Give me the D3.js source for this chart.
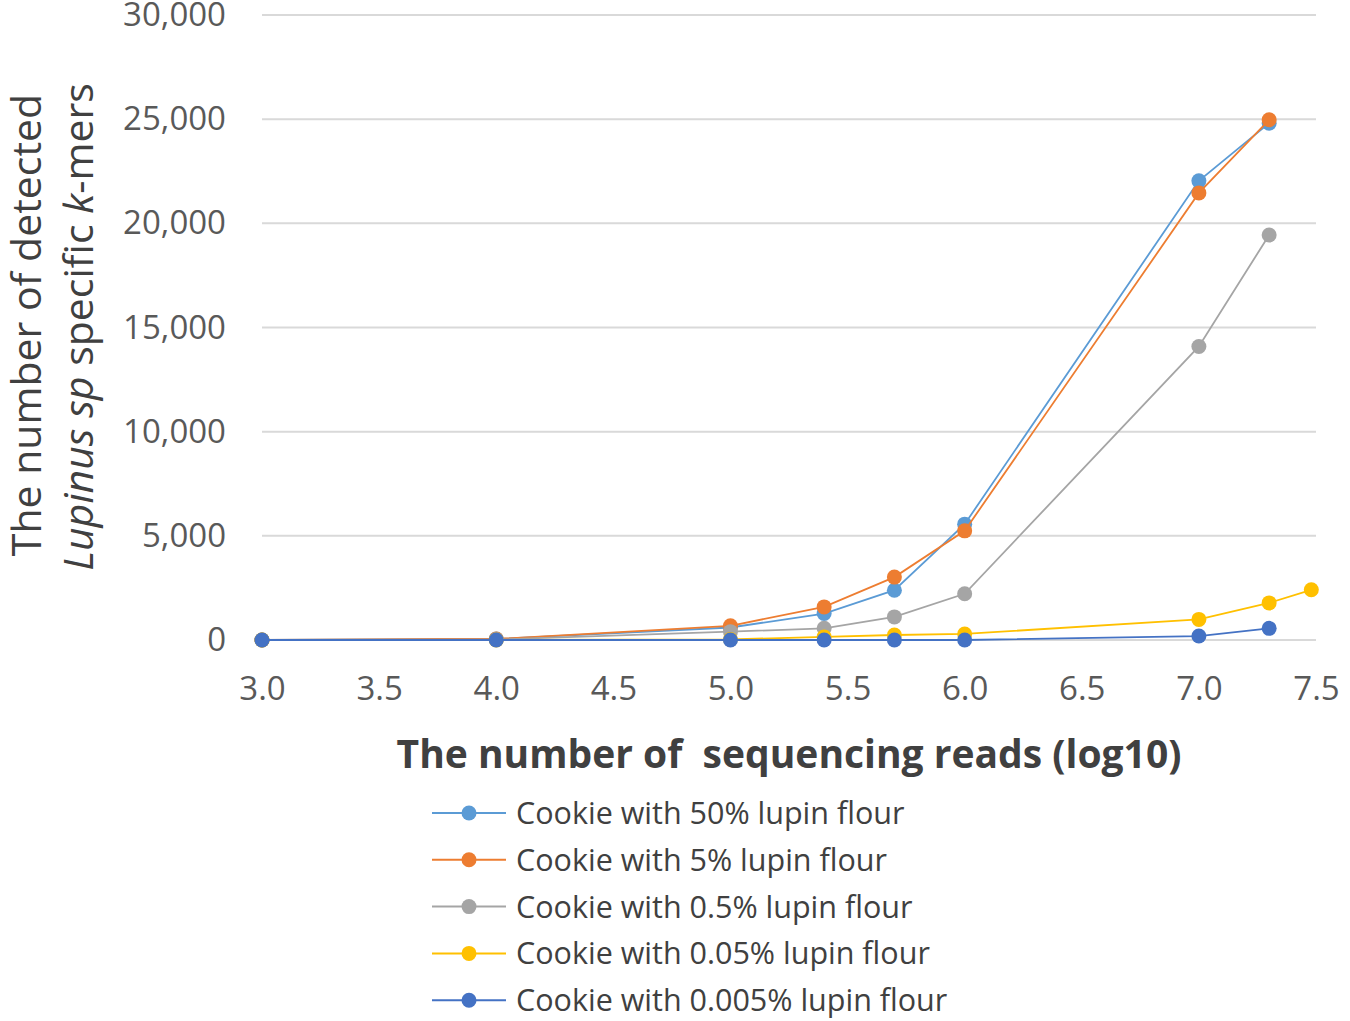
<!DOCTYPE html>
<html>
<head>
<meta charset="utf-8">
<script src="https://cdn.jsdelivr.net/npm/d3@7"></script>
<style>
  body { margin: 0; background: #fff; }
  text { font-family: "Open Sans", "Noto Sans", sans-serif; }
</style>
</head>
<body>
<div id="chart"></div>
<script>
var xValues = [3.0, 4.0, 5.0, 5.4, 5.7, 6.0, 7.0, 7.3, 7.48];
var seriesNames = [
    "Cookie with 50% lupin flour",
    "Cookie with 5% lupin flour",
    "Cookie with 0.5% lupin flour",
    "Cookie with 0.05% lupin flour",
    "Cookie with 0.005% lupin flour"
];
var seriesColors = ["#5B9BD5", "#ED7D31", "#A5A5A5", "#FFC000", "#4472C4"];
var s50 = [0, 50, 600, 1270, 2390, 5560, 22040, 24810];
var s5 = [0, 50, 680, 1590, 3020, 5240, 21460, 24970];
var s05 = [0, 20, 400, 560, 1110, 2220, 14090, 19440];
var s005 = [0, 0, 30, 150, 240, 290, 990, 1780, 2410];
var s0005 = [0, 0, 0, 0, 0, 0, 190, 560];
var allSeries = [s50, s5, s05, s005, s0005];
var xTicks = [3.0, 3.5, 4.0, 4.5, 5.0, 5.5, 6.0, 6.5, 7.0, 7.5];
var yTicks = [0, 5000, 10000, 15000, 20000, 25000, 30000];

var W = 1350, H = 1021;
var svg = d3.select("#chart").append("svg")
    .attr("width", W)
    .attr("height", H);

var x = d3.scaleLinear().domain([3.0, 7.5]).range([262, 1316]);
var y = d3.scaleLinear().domain([0, 30000]).range([640, 15]);

// gridlines
svg.append("g").selectAll("line")
    .data(yTicks)
    .enter().append("line")
    .attr("x1", x(3.0))
    .attr("x2", x(7.5))
    .attr("y1", function (d) { return y(d); })
    .attr("y2", function (d) { return y(d); })
    .attr("stroke", "#d9d9d9")
    .attr("stroke-width", 2);

// y tick labels
var yAxis = d3.axisLeft(y).tickValues(yTicks).tickSize(0).tickPadding(0)
    .tickFormat(d3.format(","));
var gy = svg.append("g").attr("transform", "translate(226,0)").call(yAxis);
gy.select(".domain").remove();
gy.selectAll("text")
    .attr("font-size", 33)
    .attr("fill", "#595959")
    .attr("font-family", "'Open Sans', sans-serif");

// x tick labels
var xAxis = d3.axisBottom(x).tickValues(xTicks).tickSize(0).tickPadding(0)
    .tickFormat(d3.format(".1f"));
var gx = svg.append("g").attr("transform", "translate(0,677)").call(xAxis);
gx.select(".domain").remove();
gx.selectAll("text")
    .attr("font-size", 33)
    .attr("fill", "#595959")
    .attr("font-family", "'Open Sans', sans-serif");

// series
var line = d3.line()
    .x(function (d, i) { return x(xValues[i]); })
    .y(function (d) { return y(d); });

allSeries.forEach(function (vals, k) {
    svg.append("path")
        .datum(vals)
        .attr("d", line)
        .attr("fill", "none")
        .attr("stroke", seriesColors[k])
        .attr("stroke-width", 1.8);
    svg.append("g").selectAll("circle")
        .data(vals)
        .enter().append("circle")
        .attr("cx", function (d, i) { return x(xValues[i]); })
        .attr("cy", function (d) { return y(d); })
        .attr("r", 7.5)
        .attr("fill", seriesColors[k]);
});

// axis titles
svg.append("text")
    .attr("x", 789)
    .attr("y", 768)
    .attr("text-anchor", "middle")
    .attr("font-size", 39)
    .attr("font-weight", "bold")
    .attr("fill", "#404040")
    .text("The number of\u00a0 sequencing reads (log10)");

svg.append("text")
    .attr("transform", "translate(41,325) rotate(-90)")
    .attr("text-anchor", "middle")
    .attr("font-size", 41)
    .attr("fill", "#404040")
    .text("The number of detected");

var yt2 = svg.append("text")
    .attr("transform", "translate(93,327) rotate(-90)")
    .attr("text-anchor", "middle")
    .attr("font-size", 41)
    .attr("fill", "#404040");
yt2.append("tspan").attr("font-style", "italic").text("Lupinus sp");
yt2.append("tspan").text(" specific ");
yt2.append("tspan").attr("font-style", "italic").text("k");
yt2.append("tspan").text("-mers");

// legend
var legend = svg.append("g").selectAll("g")
    .data(seriesNames)
    .enter().append("g")
    .attr("transform", function (d, i) { return "translate(432," + (813 + i * 46.8) + ")"; });

legend.append("line")
    .attr("x1", 0).attr("x2", 74)
    .attr("stroke", function (d, i) { return seriesColors[i]; })
    .attr("stroke-width", 2);
legend.append("circle")
    .attr("cx", 37)
    .attr("r", 7.5)
    .attr("fill", function (d, i) { return seriesColors[i]; });
legend.append("text")
    .attr("x", 84)
    .attr("y", 11)
    .attr("font-size", 30.5)
    .attr("fill", "#404040")
    .text(function (d) { return d; });
</script>
</body>
</html>
